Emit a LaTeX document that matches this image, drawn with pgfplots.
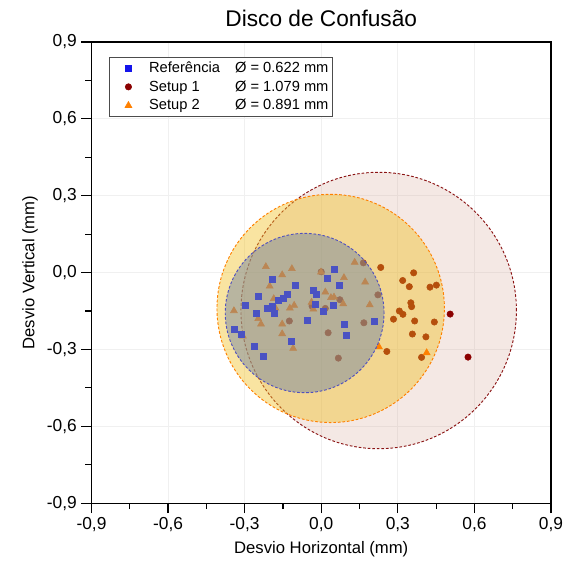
\documentclass[border=0pt]{standalone}
\usepackage{fontspec}
\setmainfont{Liberation Sans}
\usepackage{pgfplots}
\pgfplotsset{compat=1.18}

\definecolor{cRef}{RGB}{20,20,235}
\definecolor{cS1}{RGB}{139,0,0}
\definecolor{cS2}{RGB}{255,128,0}
\definecolor{cRefFill}{RGB}{125,140,160}
\definecolor{cS1Fill}{RGB}{200,140,120}
\definecolor{cS2Fill}{RGB}{240,190,30}
\definecolor{cRefLine}{RGB}{80,80,190}
\definecolor{cS1Line}{RGB}{139,20,20}

\pgfplotsset{
  wideimg/.style={legend image code/.code={%
    \path[draw=none, fill=none] (0pt,0pt) rectangle (27pt,0.1pt);
    \draw plot coordinates {(13.5pt,0pt)};}},
}

\begin{document}
\begin{tikzpicture}
\begin{axis}[
  name=ax,
  scale only axis,
  width=344.6pt, height=345.8pt,
  xmin=-0.9, xmax=0.9, ymin=-0.9, ymax=0.9,
  clip mode=individual,
  xtick={-0.9,-0.6,-0.3,0,0.3,0.6,0.9},
  ytick={-0.9,-0.6,-0.3,0,0.3,0.6,0.9},
  minor xtick={-0.75,-0.45,-0.15,0.15,0.45,0.75},
  minor ytick={-0.75,-0.45,-0.15,0.15,0.45,0.75},
  tick pos=left, tick align=outside,
  major tick length=7.5pt, minor tick length=4.5pt,
  every tick/.style={black, line width=0.9pt},
  axis line style={line width=0.9pt},
  grid=major, major grid style={gray!12, line width=0.6pt},
  ticklabel style={font=\fontsize{13}{15}\selectfont},
  /pgf/number format/assume math mode=true,
  xticklabel style={/pgf/number format/.cd, fixed, fixed zerofill, precision=1, use comma},
  yticklabel style={/pgf/number format/.cd, fixed, fixed zerofill, precision=1, use comma},
  xlabel={Desvio Horizontal (mm)}, ylabel={Desvio Vertical (mm)},
  label style={font=\fontsize{12.5}{15}\selectfont},
  legend style={at={(axis cs:-0.832,0.842)}, anchor=north west, draw=black!70,
    font=\fontsize{11}{13}\selectfont, inner xsep=1pt, inner ysep=1.5pt, row sep=0.6pt},
  legend cell align=left,
]
\addlegendimage{only marks, mark=square*, mark size=2.25pt, cRef, wideimg}
\addlegendentry{\makebox[64.5pt][l]{Referência}Ø = 0.622 mm}
\addlegendimage{only marks, mark=*, mark size=2.4pt, cS1, wideimg}
\addlegendentry{\makebox[64.5pt][l]{Setup 1}Ø = 1.079 mm}
\addlegendimage{only marks, mark=triangle*, mark size=3pt, cS2, wideimg}
\addlegendentry{\makebox[64.5pt][l]{Setup 2}Ø = 0.891 mm}
% Setup 1 disc
\draw[fill=cS1Fill, fill opacity=0.2, draw=cS1Line, dash pattern=on 2pt off 1.4pt, line width=0.7pt]
  (axis cs:0.225,-0.148) circle[radius=0.5395];
\addplot[forget plot, only marks, mark=*, mark size=2.4pt, cS1] coordinates {
 (0.000,0.003) (0.165,0.038) (0.233,0.020) (0.222,-0.087) (0.073,-0.106)
 (0.016,-0.140) (0.167,-0.196) (0.027,-0.235) (0.067,-0.334) (0.283,-0.182)
 (0.257,-0.308) (0.362,-0.001) (0.319,-0.031) (0.345,-0.055) (0.426,-0.057)
 (0.451,-0.049) (0.351,-0.118) (0.354,-0.133) (0.306,-0.150) (0.320,-0.163)
 (0.366,-0.189) (0.443,-0.193) (0.357,-0.240) (0.410,-0.251) (0.393,-0.331)
 (0.505,-0.162) (0.575,-0.330) (-0.125,-0.189) (-0.036,-0.131)
};
% Setup 2 disc
\draw[fill=cS2Fill, fill opacity=0.42, draw=cS2, dash pattern=on 2pt off 1.4pt, line width=0.7pt]
  (axis cs:0.037,-0.140) circle[radius=0.4455];
\addplot[forget plot, only marks, mark=triangle*, mark size=3pt, cS2] coordinates {
 (-0.217,0.023) (-0.115,0.015) (-0.153,-0.009) (-0.202,-0.053) (-0.186,-0.102)
 (-0.179,-0.139) (-0.106,-0.128) (-0.123,-0.139) (-0.342,-0.149) (-0.247,-0.180)
 (-0.236,-0.201) (-0.153,-0.201) (-0.153,-0.239) (-0.307,-0.248) (-0.110,-0.296)
 (0.131,0.040) (-0.001,0.002) (0.089,-0.020) (0.172,-0.037) (0.016,-0.076)
 (0.038,-0.098) (0.050,-0.096) (0.086,-0.122) (0.190,-0.126) (-0.038,-0.116)
 (-0.031,-0.143) (0.226,-0.290) (0.413,-0.313)
};
% Referencia
\addplot[forget plot, only marks, mark=square*, mark size=2.25pt, cRef] coordinates {
 (-0.192,-0.027) (-0.103,-0.050) (-0.245,-0.091) (-0.133,-0.084) (-0.149,-0.100)
 (-0.167,-0.107) (-0.296,-0.127) (-0.213,-0.139) (-0.192,-0.132) (-0.255,-0.159)
 (-0.185,-0.158) (-0.342,-0.221) (-0.312,-0.241) (-0.119,-0.270) (-0.264,-0.286)
 (-0.226,-0.326) (0.051,0.013) (0.025,-0.024) (0.072,-0.049) (-0.030,-0.068)
 (-0.021,-0.085) (-0.025,-0.123) (0.046,-0.128) (0.007,-0.150) (-0.056,-0.186)
 (0.089,-0.202) (0.099,-0.244) (0.209,-0.189)
};
\draw[fill=cRefFill, fill opacity=0.52, draw=cRefLine, dash pattern=on 2pt off 1.4pt, line width=0.7pt]
  (axis cs:-0.065,-0.158) circle[radius=0.311];
\end{axis}
\node[anchor=base, yshift=12pt, font=\fontsize{17}{20}\selectfont] at (ax.north) {Disco de Confusão};
\pgfresetboundingbox
\path ([xshift=-68.6pt, yshift=-50.3pt]ax.south west) rectangle ([xshift=15pt, yshift=31.5pt]ax.north east);
\end{tikzpicture}
\end{document}
